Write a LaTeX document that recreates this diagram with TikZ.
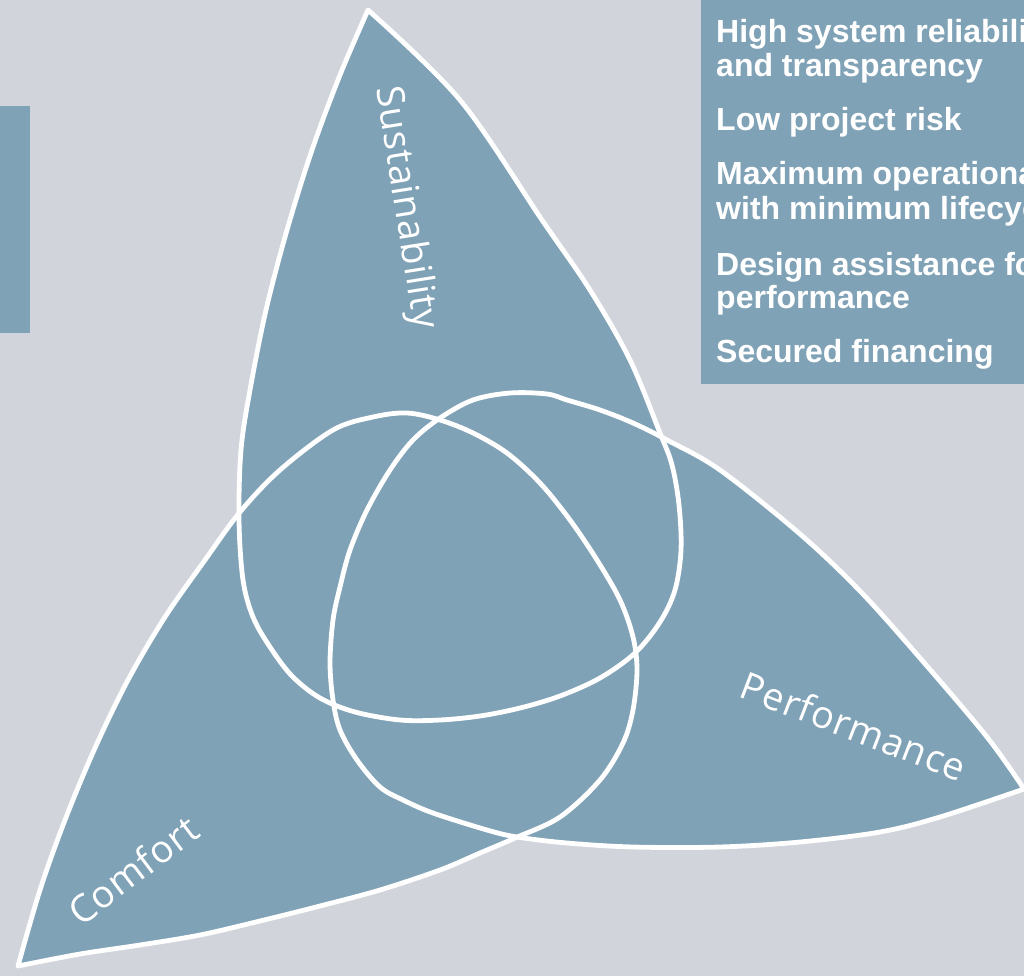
\documentclass[tikz,border=0pt]{standalone}
\usepackage{fontspec}
\setmainfont{Liberation Sans}
\newfontfamily\petalfont[LetterSpace=2]{Open Sans}
\definecolor{bg}{RGB}{209,212,219}
\definecolor{petal}{RGB}{128,162,182}
\newcommand\toppetal{plot[smooth,tension=0.55] coordinates {(368,10) (340,75) (312,150) (287,230) (266,310) (250,390) (241,450) (239,520) (243,580) (253,617) (270,647) (292,676) (320,698) (355,712) (400,720) (440,720) (480,716) (520,708) (560,696) (600,678) (635,653) (660,622) (675,590) (681,550) (679,505) (672,465) (660,433) (630,360) (590,290) (542,220) (460,100) (368,10)}}
\newcommand\leftpetal{plot[smooth,tension=0.55] coordinates {(18,966) (40,890) (65,820) (95,748) (128,680) (165,617) (205,560) (240,512) (280,470) (333,430) (373,417) (407,413) (440,420) (473,433) (507,453) (540,483) (570,520) (597,560) (620,600) (633,637) (637,670) (633,710) (623,743) (600,780) (560,817) (515,838) (480,853) (440,870) (380,890) (320,906) (260,921) (200,935) (140,945) (80,954) (18,966)}}
\newcommand\rightpetal{plot[smooth,tension=0.55] coordinates {(1024,789) (987,737) (920,658) (860,591) (800,534) (720,470) (667,440) (633,423) (600,410) (567,400) (547,394) (510,393) (473,400) (440,418) (413,440) (390,470) (367,510) (350,550) (340,587) (333,620) (330,663) (333,700) (340,730) (357,760) (380,787) (403,800) (433,813) (487,830) (517,837) (567,843) (633,847) (720,847) (800,842) (880,832) (940,817) (1024,789)}}
\tikzset{
  petalfill/.style={fill=petal},
  petalline/.style={draw=white,line width=4.8pt,line join=round},
  lbl/.style={text=white,inner sep=0pt,font=\petalfont\fontsize{38}{44}\selectfont},
  item/.style={text=white,inner sep=0pt,anchor=base west,font=\bfseries\fontsize{32}{36}\selectfont}
}
\begin{document}
\begin{tikzpicture}[x=1pt,y=-1pt]
\useasboundingbox (0,0) rectangle (1024,976);
\clip (0,0) rectangle (1024,976);
\fill[bg] (0,0) rectangle (1024,976);
\fill[petal] (0,106) rectangle (30,333);
\fill[petal] (701,0) rectangle (1030,384);
\fill[petalfill] \toppetal -- cycle;
\fill[petalfill] \leftpetal -- cycle;
\fill[petalfill] \rightpetal -- cycle;
\draw[petalline] \toppetal -- cycle;
\draw[petalline] \leftpetal -- cycle;
\draw[petalline] \rightpetal -- cycle;
\node[lbl,rotate=-81] (sus) at (405,208) {Sustainability};
\node[lbl,rotate=-21] (perf) at (854,726) {Performance};
\node[lbl,rotate=37] (comf) at (133,870) {Comfort};
\node[item] (t1) at (716,43) {High system reliability};
\node[item] (t2) at (716,77) {and transparency};
\node[item] (t3) at (716,131) {Low project risk};
\node[item] (t4) at (716,185) {Maximum operational};
\node[item] (t5) at (716,220) {with minimum lifecycle};
\node[item] (t6) at (716,275) {Design assistance for};
\node[item] (t7) at (716,308) {performance};
\node[item] (t8) at (716,362) {Secured financing};
\end{tikzpicture}
\end{document}
